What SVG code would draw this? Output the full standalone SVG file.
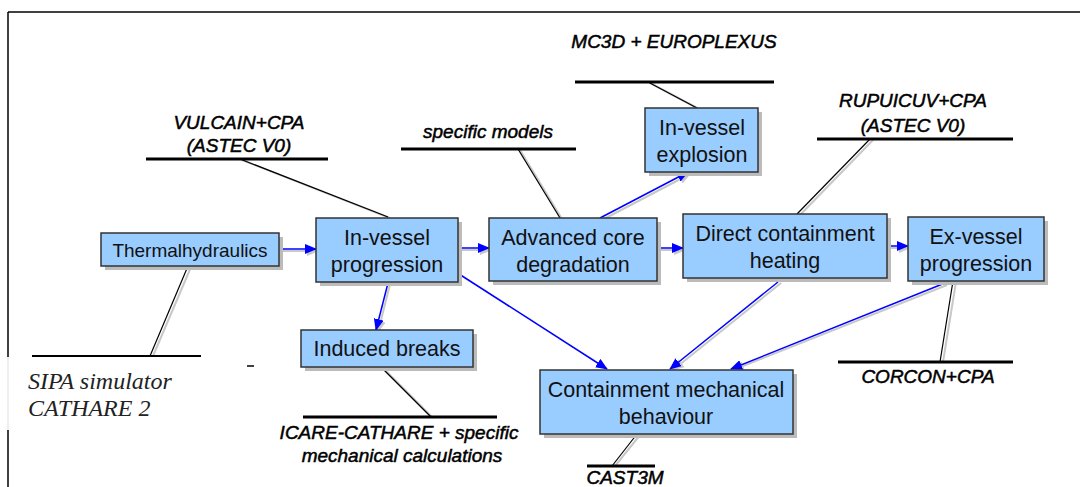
<svg xmlns="http://www.w3.org/2000/svg" width="1080" height="487" viewBox="0 0 1080 487">
<style>
.box{fill:#99CCFF;stroke:#333;stroke-width:1.5}
.shadow{fill:#BBBBBB}
.bt{font-family:"Liberation Sans",Arial,sans-serif;font-size:21.5px;fill:#111;text-anchor:middle}
.lbl{font-family:"Liberation Sans",Arial,sans-serif;font-size:19px;font-style:italic;fill:#000;stroke:#000;stroke-width:0.5;text-anchor:middle}
.ser{font-family:"Liberation Serif","Times New Roman",serif;font-size:24px;font-style:italic;fill:#222}
.ul{stroke:#000;stroke-width:3}
.cn{stroke:#000;stroke-width:1.2;fill:none}
.cns{stroke:#C8C8C8;stroke-width:2;fill:none}
.ar{stroke:#0000FF;stroke-width:1.5;fill:none;marker-end:url(#ah)}
.ars{stroke:#C8C8C8;stroke-width:2;fill:none;marker-end:url(#ahs)}
</style>
<defs>
<marker id="ah" markerWidth="12" markerHeight="10" refX="11" refY="5" orient="auto" markerUnits="userSpaceOnUse"><path d="M0,0 L12,5 L0,10 Z" fill="#0000FF"/></marker>
<marker id="ahs" markerWidth="12" markerHeight="10" refX="11" refY="5" orient="auto" markerUnits="userSpaceOnUse"><path d="M0,0 L12,5 L0,10 Z" fill="#C8C8C8"/></marker>
</defs>
<rect width="1080" height="487" fill="#fff"/>
<g id="frame">
<line x1="8" y1="12" x2="1080" y2="12" stroke="#000" stroke-width="1.5"/>
<line x1="8" y1="12" x2="8" y2="357" stroke="#000" stroke-width="1.5"/>
<line x1="8" y1="357" x2="8" y2="430" stroke="#DDD" stroke-width="1"/>
<line x1="8" y1="430" x2="8" y2="487" stroke="#000" stroke-width="1.5"/>
<line x1="247" y1="366" x2="254" y2="366" stroke="#000" stroke-width="1.5"/>
</g>
<g id="connectors">
<line class="cns" x1="242" y1="160" x2="390" y2="218"/>
<line class="cn" x1="240" y1="159" x2="388" y2="217"/>
<line class="cns" x1="520" y1="150" x2="562" y2="219"/>
<line class="cn" x1="518" y1="149" x2="560" y2="218"/>
<line class="cns" x1="650" y1="83" x2="699" y2="109"/>
<line class="cn" x1="648" y1="82" x2="697" y2="108"/>
<line class="cns" x1="873" y1="140" x2="800" y2="215"/>
<line class="cn" x1="870" y1="139" x2="797" y2="214"/>
<line class="cns" x1="191" y1="267" x2="153" y2="356"/>
<line class="cn" x1="188" y1="266" x2="150" y2="356"/>
<line class="cns" x1="383" y1="368" x2="433" y2="418"/>
<line class="cn" x1="381" y1="367" x2="431" y2="417"/>
<line class="cns" x1="956" y1="282" x2="943" y2="362"/>
<line class="cn" x1="953" y1="281" x2="940" y2="362"/>
<line class="cns" x1="640" y1="435" x2="615" y2="466"/>
<line class="cn" x1="637" y1="434" x2="612" y2="466"/>
<line class="ul" x1="146" y1="159" x2="328" y2="159"/>
<line class="ul" x1="401" y1="149" x2="576" y2="149"/>
<line class="ul" x1="575" y1="82" x2="774" y2="82"/>
<line class="ul" x1="817" y1="139" x2="1013" y2="139"/>
<line class="ul" x1="32" y1="356" x2="201" y2="356" style="stroke-width:2"/>
<line class="ul" x1="303" y1="417" x2="497" y2="417"/>
<line class="ul" x1="838" y1="362" x2="1013" y2="362"/>
<line class="ul" x1="587" y1="466" x2="655" y2="466"/>
<line class="ars" x1="280" y1="251" x2="318" y2="251"/>
<line class="ar" x1="280" y1="249" x2="316" y2="249"/>
<line class="ars" x1="459" y1="250" x2="491" y2="250"/>
<line class="ar" x1="459" y1="248" x2="489" y2="248"/>
<line class="ars" x1="658" y1="250" x2="685" y2="250"/>
<line class="ar" x1="658" y1="248" x2="683" y2="248"/>
<line class="ars" x1="889" y1="248" x2="910" y2="248"/>
<line class="ar" x1="889" y1="246" x2="908" y2="246"/>
<line class="ars" x1="602" y1="220" x2="690" y2="174"/>
<line class="ar" x1="600" y1="218" x2="688" y2="172"/>
<line class="ars" x1="390" y1="284" x2="378" y2="332"/>
<line class="ar" x1="388" y1="283" x2="376" y2="330"/>
<line class="ar" x1="459" y1="274" x2="607" y2="369"/>
<line class="ars" x1="781" y1="283" x2="673" y2="370"/>
<line class="ar" x1="778" y1="282" x2="670" y2="369"/>
<line class="ars" x1="947" y1="285" x2="733" y2="370"/>
<line class="ar" x1="945" y1="283" x2="731" y2="369"/>
</g>
<g id="n-thermal">
<rect class="shadow" x="105" y="237" width="178" height="33"/>
<rect class="box" x="101" y="233" width="178" height="33"/>
<text class="bt" x="190" y="257" style="font-size:19px">Thermalhydraulics</text>
</g>
<g id="n-invessel">
<rect class="shadow" x="320" y="222" width="142" height="64"/>
<rect class="box" x="316" y="218" width="142" height="64"/>
<text class="bt" x="387" y="245">In-vessel</text>
<text class="bt" x="387" y="272">progression</text>
</g>
<g id="n-advanced">
<rect class="shadow" x="493" y="222" width="168" height="63"/>
<rect class="box" x="489" y="218" width="168" height="63"/>
<text class="bt" x="573" y="245">Advanced core</text>
<text class="bt" x="573" y="272">degradation</text>
</g>
<g id="n-explosion">
<rect class="shadow" x="649" y="112" width="113" height="64"/>
<rect class="box" x="645" y="108" width="113" height="64"/>
<text class="bt" x="702" y="135">In-vessel</text>
<text class="bt" x="702" y="162">explosion</text>
</g>
<g id="n-dch">
<rect class="shadow" x="687" y="218" width="204" height="64"/>
<rect class="box" x="683" y="214" width="204" height="64"/>
<text class="bt" x="785" y="241">Direct containment</text>
<text class="bt" x="785" y="268">heating</text>
</g>
<g id="n-exvessel">
<rect class="shadow" x="912" y="221" width="136" height="64"/>
<rect class="box" x="908" y="217" width="136" height="64"/>
<text class="bt" x="976" y="244">Ex-vessel</text>
<text class="bt" x="976" y="271">progression</text>
</g>
<g id="n-induced">
<rect class="shadow" x="305" y="334" width="172" height="37"/>
<rect class="box" x="301" y="330" width="172" height="37"/>
<text class="bt" x="387" y="356">Induced breaks</text>
</g>
<g id="n-containment">
<rect class="shadow" x="544" y="374" width="253" height="64"/>
<rect class="box" x="540" y="370" width="253" height="64"/>
<text class="bt" x="666" y="397">Containment mechanical</text>
<text class="bt" x="666" y="424">behaviour</text>
</g>
<g id="labels">
<text class="lbl" x="239" y="129">VULCAIN+CPA</text>
<text class="lbl" x="239" y="152">(ASTEC V0)</text>
<text class="lbl" x="488" y="138">specific models</text>
<text class="lbl" x="674" y="48">MC3D + EUROPLEXUS</text>
<text class="lbl" x="913" y="107">RUPUICUV+CPA</text>
<text class="lbl" x="913" y="132">(ASTEC V0)</text>
<text class="ser" x="28" y="389">SIPA simulator</text>
<text class="ser" x="28" y="416">CATHARE 2</text>
<text class="lbl" x="399" y="439">ICARE-CATHARE + specific</text>
<text class="lbl" x="402" y="462">mechanical calculations</text>
<text class="lbl" x="928" y="383">CORCON+CPA</text>
<text class="lbl" x="625" y="484">CAST3M</text>
</g>
</svg>
